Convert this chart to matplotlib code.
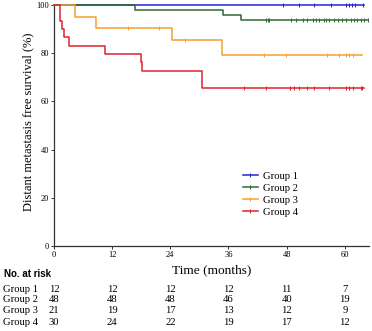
import matplotlib
matplotlib.use('Agg')
import matplotlib.pyplot as plt
import matplotlib.transforms as mtransforms
import numpy as np

plt.rcParams['font.family'] = ['Liberation Serif', 'DejaVu Serif']

# ============================================================
# data
# ============================================================
groups = ['Group 1', 'Group 2', 'Group 3', 'Group 4']
colors = ['#2323d8', '#2f6a2f', '#f3a033', '#e2202c']

g1_t = [0]
g1_s = [100]
g1_end = 64.0
g1_cens = [47.3, 50.6, 53.7, 57.1, 60.2, 60.9, 61.5, 62.1, 63.8]

g2_t = [0, 16.7, 34.8, 38.5]
g2_s = [100, 97.9, 95.8, 93.7]
g2_end = 64.8
g2_cens = [43.8, 44.1, 44.4, 48.9, 49.9, 51.3, 52.3, 53.4, 54.1, 54.7, 55.8,
           56.1, 56.8, 57.8, 58.5, 59.5, 60.2, 61.3, 61.9, 62.6, 63.3, 64.0, 64.7]

g3_t = [0, 4.3, 8.6, 24.4, 34.7]
g3_s = [100, 95.2, 90.4, 85.3, 79.1]
g3_end = 63.6
g3_cens = [15.3, 21.6, 27.0, 43.4, 47.9, 56.4, 58.8, 60.2, 60.9, 61.6]

g4_t = [0, 1.2, 1.7, 2.1, 3.1, 10.6, 18.0, 18.2, 30.5]
g4_s = [100, 93.3, 90.0, 86.6, 82.9, 79.5, 76.2, 72.6, 65.6]
g4_end = 64.0
g4_cens = [39.3, 43.8, 48.6, 49.6, 50.6, 52.3, 53.7, 56.8, 60.2, 60.9, 61.6, 63.3, 63.6]

risk_times = [0, 12, 24, 36, 48, 60]
risk_g1 = [12, 12, 12, 12, 11, 7]
risk_g2 = [48, 48, 48, 46, 40, 19]
risk_g3 = [21, 19, 17, 13, 12, 9]
risk_g4 = [30, 24, 22, 19, 17, 12]

curves = [
    (g1_t, g1_s, g1_end, g1_cens),
    (g2_t, g2_s, g2_end, g2_cens),
    (g3_t, g3_s, g3_end, g3_cens),
    (g4_t, g4_s, g4_end, g4_cens),
]
risks = [risk_g1, risk_g2, risk_g3, risk_g4]

# ============================================================
# plot
# ============================================================
fig = plt.figure(figsize=(3.72, 3.31), dpi=100)
ax = fig.add_axes([0.145, 0.257, 0.847, 0.728])

for (t, s, t_end, cens), col, name in zip(curves, colors, groups):
    xs = list(t) + [t_end]
    ys = list(s) + [s[-1]]
    ax.step(xs, ys, where='post', color=col, lw=1.1, clip_on=False, zorder=3)
    idx = np.searchsorted(t, cens, side='right') - 1
    cy = np.array(s)[idx]
    ax.plot(cens, cy, ls='none', marker='|', ms=3, mew=0.7, color=col,
            clip_on=False, zorder=3)
    # legend proxy
    ax.plot([], [], color=col, lw=1.1, marker='|', ms=3, mew=0.7, label=name)

ax.set_xlim(0, 65)
ax.set_ylim(0, 100)
ax.set_xticks(risk_times)
ax.set_yticks([0, 20, 40, 60, 80, 100])
ax.spines['top'].set_visible(False)
ax.spines['right'].set_visible(False)
for sp in ['left', 'bottom']:
    ax.spines[sp].set_color('#333333')
    ax.spines[sp].set_linewidth(0.9)
ax.tick_params(axis='both', labelsize=6, length=2.5, width=0.7, pad=1,
               color='#333333')

ax.set_ylabel('Distant metastasis free survival (%)', fontsize=9)
ax.yaxis.set_label_coords(-0.062, 0.515)
ax.set_xlabel('Time (months)', fontsize=9.6)
ax.xaxis.set_label_coords(0.5, -0.076)
ax.xaxis.label.set_va('top')

ax.legend(loc='center left', bbox_to_anchor=(0.6, 0.215), frameon=False,
          fontsize=7.7, handlelength=1.4, handletextpad=0.5, labelspacing=0.25,
          borderpad=0, borderaxespad=0)

# ============================================================
# number at risk table
# ============================================================
trans = mtransforms.blended_transform_factory(ax.transData, fig.transFigure)
fig.text(0.01, 0.171, 'No. at risk', fontsize=7, fontweight='bold',
         family=['Liberation Sans', 'DejaVu Sans'], va='center', ha='left')
row_y = [0.126, 0.094, 0.061, 0.027]
for name, r, y in zip(groups, risks, row_y):
    fig.text(0.007, y, name, fontsize=7.7, va='center', ha='left')
    for tx, n in zip(risk_times, r):
        ax.text(tx, y, str(n), transform=trans, fontsize=7.7, va='center',
                ha='center')

fig.savefig('out.png', dpi=100)
